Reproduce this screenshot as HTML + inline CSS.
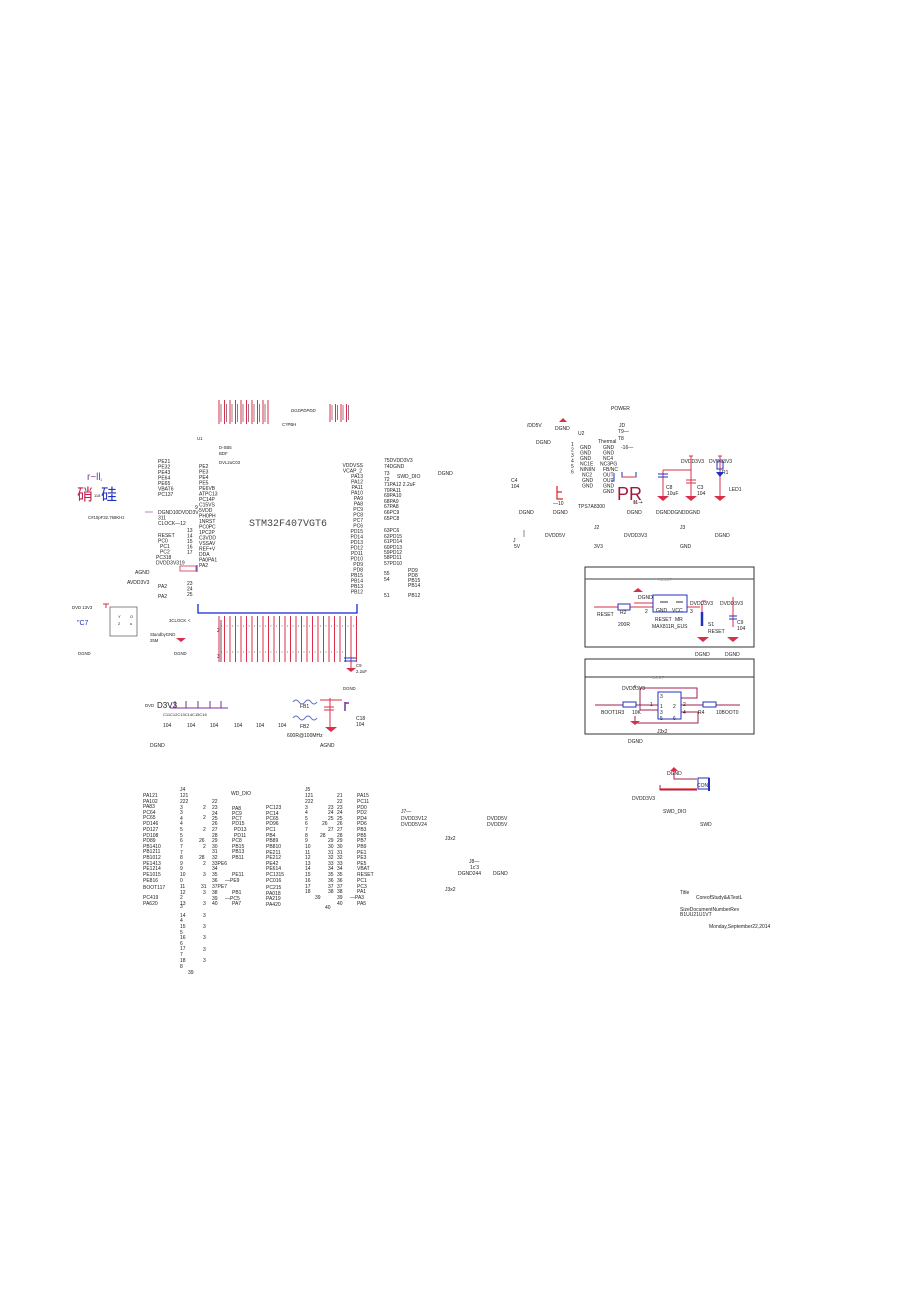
<!DOCTYPE html>
<html><head><meta charset="utf-8"><style>
html,body{margin:0;padding:0;background:#fff;}
svg{display:block;}
text{font-family:"Liberation Sans",sans-serif;font-size:5px;fill:#222;}
.s{font-size:4.3px}
.v{font-size:4px}
</style></head><body>
<svg width="920" height="1302" viewBox="0 0 920 1302" xmlns="http://www.w3.org/2000/svg">
<rect width="920" height="1302" fill="#fff"/>

<!-- top pins of U1 -->
<g stroke="#d8304a" stroke-width="1">
<path d="M219 400V424M224.5 400V424M230 400V424M235.5 400V424M241 400V424M246.5 400V424M252 400V424M257.5 400V424M263 400V424M268 400V424M330 404V422M335.5 404V422M341 404V422M346.5 404V422"/>
</g>
<g stroke="#6a1030" stroke-width="0.6"><path d="M221 404V422M226.5 404V422M232 404V422M237.5 404V422M243 404V422M248.5 404V422M254 404V422M259.5 404V422M265 404V422M332 405V420M337.5 405V420M343 405V420M348.5 405V420"/></g>
<text x="291" y="412" font-style="italic" class="s">DGDPDPDD</text>
<text x="282" y="426" class="s">C?PBH</text>
<text x="197" y="440" class="s">U1</text>
<text x="219" y="449" class="s">D-SB5</text>
<text x="219" y="455" class="s">BDF</text>
<text x="219" y="464" class="s">DVL2uC03</text>

<!-- chinese -->
<text x="87" y="480" style="font-size:10px;fill:#7a3a9a">r~ll</text><text x="100" y="481" class="v" style="fill:#7a3a9a">1</text>
<text x="77" y="500" style="font-family:'Liberation Sans','Noto Sans CJK SC',sans-serif;font-size:16px;fill:#c0204a">硝</text>
<text x="94" y="497" class="v">118</text>
<text x="101" y="500" style="font-family:'Liberation Sans','Noto Sans CJK SC',sans-serif;font-size:16px;fill:#2030c0">硅</text>
<text x="88" y="519" class="s">C#10pF32.768KHz</text>
<path d="M145 512h8" stroke="#c080c0"/>

<!-- left labels -->
<g class="s">
<text x="158" y="463">PE21</text><text x="158" y="468.5">PE32</text><text x="158" y="474">PE43</text><text x="158" y="479.5">PE64</text><text x="158" y="485">PE65</text><text x="158" y="490.5">VBAT6</text><text x="158" y="496">PC137</text>
<text x="158" y="514">DGND10DVDD3V</text><text x="158" y="519.5">311</text><text x="158" y="525">CLOCK—12</text>
<text x="158" y="537">RESET</text><text x="158" y="542.5">PC0</text><text x="160" y="548">PC1</text><text x="160" y="553.5">PC2</text><text x="156" y="559">PC318</text><text x="156" y="564.5">DVDD3V319</text>
<text x="135" y="574">AGND</text><text x="127" y="584">AVDD3V3</text><text x="158" y="588">PA2</text><text x="158" y="598">PA2</text>
<text x="187" y="532">13</text><text x="187" y="537.5">14</text><text x="187" y="543">15</text><text x="187" y="548.5">16</text><text x="187" y="554">17</text>
<text x="187" y="585">23</text><text x="187" y="590.5">24</text><text x="187" y="596">25</text><text x="195" y="509">9</text>
<text x="199" y="468">PE2</text><text x="199" y="473.5">PE3</text><text x="199" y="479">PE4</text><text x="199" y="484.5">PE5</text><text x="199" y="490">PE6VB</text><text x="199" y="495.5">ATPC13</text><text x="199" y="501">PC14P</text><text x="199" y="506.5">C15VS</text><text x="199" y="512">5VDD</text><text x="199" y="517.5">PH0PH</text><text x="199" y="523">1NRST</text><text x="199" y="528.5">PC0PC</text><text x="199" y="534">1PC2P</text><text x="199" y="539.5">C3VDD</text><text x="199" y="545">VSSAV</text><text x="199" y="550.5">REF+V</text><text x="199" y="556">DDA</text><text x="199" y="561.5">PA0PA1</text><text x="199" y="567">PA2</text>
</g>
<rect x="180" y="566" width="16" height="5" fill="none" stroke="#d03050" stroke-width="0.8"/><path d="M197 565v7" stroke="#3040d0"/>
<text x="249" y="526" style="font-family:'Liberation Mono',monospace;font-size:10px;fill:#444">STM32F407VGT6</text>

<!-- right labels -->
<g class="s" text-anchor="end">
<text x="363" y="467">VDDVSS</text><text x="362" y="472.5">VCAP_2</text><text x="363" y="478">PA13</text><text x="363" y="483.5">PA12</text><text x="363" y="489">PA11</text><text x="363" y="494.5">PA10</text><text x="363" y="500">PA9</text><text x="363" y="505.5">PA8</text><text x="363" y="511">PC9</text><text x="363" y="516.5">PC8</text><text x="363" y="522">PC7</text><text x="363" y="527.5">PC6</text><text x="363" y="533">PD15</text><text x="363" y="538.5">PD14</text><text x="363" y="544">PD13</text><text x="363" y="549.5">PD12</text><text x="363" y="555">PD11</text><text x="363" y="560.5">PD10</text><text x="363" y="566">PD9</text><text x="363" y="571.5">PD8</text><text x="363" y="577">PB15</text><text x="363" y="582.5">PB14</text><text x="363" y="588">PB13</text><text x="363" y="593.5">PB12</text>
</g>
<g class="s">
<text x="384" y="462">75DVDD3V3</text><text x="384" y="468">74DGND</text><text x="384" y="475">73</text><text x="384" y="481">72</text><text x="384" y="486">71PA12 2.2uF</text><text x="384" y="492">70PA11</text><text x="384" y="497">69PA10</text><text x="384" y="503">68PA9</text><text x="384" y="508">67PA8</text><text x="384" y="514">66PC9</text><text x="384" y="520">65PC8</text><text x="384" y="532">63PC6</text><text x="384" y="538">62PD15</text><text x="384" y="543">61PD14</text><text x="384" y="549">60PD13</text><text x="384" y="554">59PD12</text><text x="384" y="559">58PD11</text><text x="384" y="565">57PD10</text><text x="384" y="575">55</text><text x="384" y="581">54</text><text x="384" y="597">51</text>
<text x="408" y="572">PD9</text><text x="408" y="577">PD8</text><text x="408" y="582">PB15</text><text x="408" y="587">PB14</text><text x="408" y="597">PB12</text>
<text x="397" y="478">SWD_DIO</text><text x="438" y="475">DGND</text>
</g>

<!-- U1 bottom -->
<path d="M198 604V613H357V604" fill="none" stroke="#1428d8" stroke-width="1.3"/>
<g stroke="#d8304a" stroke-width="1">
<path d="M219 616V662M224.5 616V662M230 616V662M235.5 616V662M241 616V662M246.5 616V662M252 616V662M257.5 616V662M263 616V662M268.5 616V662M274 616V662M279.5 616V662M285 616V662M290.5 616V662M296 616V662M301.5 616V662M307 616V662M312.5 616V662M318 616V662M323.5 616V662M329 616V662M334.5 616V662M340 616V662M345.5 616V662M351 616V668M356.5 616V662"/>
</g>
<path d="M221 620V662" stroke="#6a1030" stroke-width="0.8"/>
<g class="v" fill="#333">
<text x="217" y="632">2</text><text x="217" y="658">3</text>
</g>
<g stroke="#555" stroke-width="0.8"><path d="M221 626h1M226.5 626h1M232 626h1M237.5 626h1M243 626h1M248.5 626h1M254 626h1M259.5 626h1M265 626h1M270.5 626h1M276 626h1M281.5 626h1M287 626h1M292.5 626h1M298 626h1M303.5 626h1M309 626h1M314.5 626h1M320 626h1M325.5 626h1M331 626h1M336.5 626h1M342 626h1M347.5 626h1M353 626h1M221 652h1M226.5 652h1M232 652h1M237.5 652h1M243 652h1M248.5 652h1M254 652h1M259.5 652h1M265 652h1M270.5 652h1M276 652h1M281.5 652h1M287 652h1M292.5 652h1M298 652h1M303.5 652h1M309 652h1M314.5 652h1M320 652h1M325.5 652h1M331 652h1M336.5 652h1M342 652h1"/></g>
<path d="M344 658h12M344 661h12" stroke="#2030c0"/>
<path d="M346 668h10l-5 4z" fill="#d8304a"/>
<text x="356" y="667" class="s">C9</text><text x="356" y="673" class="s">2.2uF</text>
<text x="343" y="690" class="s">DGND</text>

<!-- crystal / clock -->
<text x="72" y="609" class="s">DVD 13V3</text><path d="M103 604h6M106 604v4" stroke="#d8304a"/>
<text x="77" y="625" style="font-size:7px;fill:#2030c0">"C7</text>
<rect x="110" y="607" width="27" height="29" fill="none" stroke="#555" stroke-width="0.7"/>
<text x="118" y="618" class="v">Y</text><text x="130" y="618" class="v">O</text><text x="118" y="625" class="v">2</text><text x="130" y="625" class="v">u</text>
<text x="150" y="636" class="s">StandbyGND</text><text x="150" y="642" class="s">25M</text>
<text x="78" y="655" class="s">DGND</text><text x="169" y="622" class="s">3CLOCK</text><text x="188" y="622" class="s">&lt;</text>
<path d="M176 638h10l-5 4z" fill="#d8304a"/><text x="174" y="655" class="s">DGND</text>

<!-- decoupling -->
<text x="145" y="707" class="s">DVD</text><text x="157" y="708" style="font-size:8px">D3V3</text>
<g stroke="#7a2fa0" stroke-width="1"><path d="M170 708h58M175 701v7M186 701v7M198 701v7M210 701v7M221 701v7"/></g>
<text x="163" y="716" class="v">C11C12C13C14C15C16</text>
<g class="s"><text x="163" y="727">104</text><text x="187" y="727">104</text><text x="210" y="727">104</text><text x="234" y="727">104</text><text x="256" y="727">104</text><text x="278" y="727">104</text>
<text x="150" y="747">DGND</text><text x="300" y="708">FB1</text><text x="300" y="728">FB2</text><text x="287" y="737">600R@100MHz</text><text x="320" y="747">AGND</text><text x="356" y="720">C18</text><text x="356" y="726">104</text></g>
<path d="M293 702q3-4 6 0t6 0t6 0t6 0" fill="none" stroke="#6070d0"/>
<path d="M293 718q3-4 6 0t6 0t6 0t6 0" fill="none" stroke="#6070d0"/>
<path d="M320 700h22M330 698v30M324 707h10M324 710h10" stroke="#d8304a" fill="none"/>
<path d="M345 702v9M345 703h4" stroke="#7a2fa0" stroke-width="1.5"/>
<path d="M325 727h12l-6 5z" fill="#d8304a"/>

<!-- POWER -->
<g class="s">
<text x="611" y="410">POWER</text><text x="527" y="427">/DD5V</text><text x="555" y="430">DGND</text><text x="578" y="435">U2</text><text x="619" y="427">JD</text><text x="618" y="433">T9—</text><text x="618" y="440">T8</text><text x="598" y="443">Thermal</text><text x="536" y="444">DGND</text>
<text x="571" y="446">1</text><text x="571" y="451.5">2</text><text x="571" y="457">3</text><text x="571" y="462.5">4</text><text x="571" y="468">5</text><text x="571" y="473.5">6</text>
<text x="580" y="449">GND</text><text x="580" y="454.5">GND</text><text x="580" y="460">GND</text><text x="580" y="465.5">NC1E</text><text x="580" y="471">NINIIN</text><text x="582" y="476.5">NC2</text><text x="582" y="482">GND</text><text x="582" y="487.5">GND</text>
<text x="603" y="449">GND</text><text x="603" y="454.5">GND</text><text x="603" y="460">NC4</text><text x="600" y="465.5">NC3PG</text><text x="603" y="471">FB/NC</text><text x="603" y="476.5">OUT</text><text x="603" y="482">OUT</text><text x="603" y="487.5">GND</text><text x="603" y="493">GND</text>
<text x="621" y="449">-16—</text><text x="511" y="482">C4</text><text x="511" y="488">104</text>
<text x="553" y="505">—10</text><text x="578" y="508">TPS7A8300</text><text x="633" y="504">11-+</text>
<text x="519" y="514">DGND</text><text x="553" y="514">DGND</text><text x="627" y="514">DGND</text><text x="656" y="514">DGNDDGNDDGND</text>
<text x="513" y="542">J</text><text x="514" y="548">5V</text><text x="545" y="537">DVDD5V</text><text x="594" y="529">J2</text><text x="594" y="548">3V3</text><text x="624" y="537">DVDD3V3</text><text x="680" y="529">J3</text><text x="680" y="548">GND</text><text x="715" y="537">DGND</text>
<text x="681" y="463">DVDD3V3</text><text x="709" y="463">DVDD3V3</text><text x="666" y="489">C8</text><text x="667" y="495">10uF</text><text x="697" y="489">C3</text><text x="697" y="495">104</text><text x="722" y="474">R1</text><text x="729" y="491">LED1</text>
</g>
<path d="M559 422h8l-4-4z" fill="#d8304a"/>
<path d="M557 486v13h6" fill="none" stroke="#e02020" stroke-width="1.2"/><path d="M557 492h5" stroke="#e02020" stroke-width="1.2"/>
<text x="617" y="500" style="font-size:18px;fill:#a0183a">PR</text>
<path d="M614 473v8h-3M622 472v5h14v-5" fill="none" stroke="#2030c0"/><path d="M622 477h14" stroke="#d8304a"/>
<path d="M524 530v7" stroke="#888"/>
<g stroke="#d8304a" fill="none">
<path d="M663 470h28M691 456v40M663 470v26M720 456v40M633 502h4"/>
<path d="M686 480h10M686 483h10"/>
</g>
<path d="M658 474h10M658 477h10" stroke="#2030c0"/>
<rect x="717" y="461" width="6" height="8" fill="none" stroke="#2030c0"/>
<path d="M716 472h8l-4 5z" fill="#2030c0"/>
<path d="M657 496h12l-6 5zM685 496h12l-6 5zM714 496h12l-6 5z" fill="#d8304a"/>
<path d="M689 456h4M718 456h4" stroke="#d8304a"/>

<!-- RESET box -->
<rect x="585" y="567" width="169" height="80" fill="none" stroke="#333" stroke-width="1"/>
<path d="M585 579H754" stroke="#666" stroke-width="1.2"/>
<text x="665" y="581" class="s" fill="#999" text-anchor="middle" style="fill:#999">RESET</text>
<path d="M594 607H653M634 603H653M687 607H700M702 604V622M702 601h4M733 597v30" stroke="#d8304a" fill="none"/>
<rect x="618" y="604" width="12" height="6" fill="#fff" stroke="#2030c0"/>
<rect x="653" y="595" width="34" height="17" fill="none" stroke="#2030c0"/>
<path d="M660 602h8M676 602h7" stroke="#333"/>
<path d="M702 612v14" stroke="#2030c0" stroke-width="2.5"/>
<path d="M729 616h8M729 619h8" stroke="#2030c0"/>
<path d="M633 592h10l-5-4zM697 637h12l-6 5zM727 637h12l-6 5z" fill="#d8304a"/>
<g class="s"><text x="638" y="599">DGND</text><text x="597" y="616">RESET</text><text x="620" y="614">R2</text><text x="618" y="626">200R</text><text x="645" y="613">2</text><text x="656" y="612">GND</text><text x="672" y="612">VCC</text><text x="655" y="621">RESET</text><text x="675" y="621">MR</text><text x="652" y="628">MAX811R_EUS</text><text x="690" y="605">DVDD3V3</text><text x="690" y="613">3</text><text x="708" y="626">S1</text><text x="708" y="633">RESET</text><text x="720" y="605">DVDD3V3</text><text x="737" y="624">C9</text><text x="737" y="630">104</text><text x="695" y="656">DGND</text><text x="725" y="656">DGND</text></g>

<!-- BOOT box -->
<rect x="585" y="659" width="169" height="75" fill="none" stroke="#333" stroke-width="1"/>
<path d="M585 677H754" stroke="#333" stroke-width="1"/>
<text x="652" y="679" class="s" style="fill:#999">BOOT</text>
<g stroke="#a02050" fill="none"><path d="M595 705H658M681 705H740M635 688v-3M640 688H697V698H681M640 688v22h18M635 716v7H698V712H681"/></g>
<rect x="658" y="692" width="23" height="27" fill="none" stroke="#2030c0"/>
<rect x="623" y="702" width="13" height="5" fill="#fff" stroke="#2030c0"/>
<rect x="703" y="702" width="13" height="5" fill="#fff" stroke="#2030c0"/>
<path d="M630 721h10l-5 4z" fill="#d8304a"/>
<g class="s"><text x="622" y="690">DVDD3V3</text><text x="601" y="714">BOOT1R3</text><text x="632" y="714">10K</text><text x="660" y="698">3</text><text x="650" y="706">1</text><text x="660" y="708">1</text><text x="660" y="714">3</text><text x="673" y="708">2</text><text x="683" y="706">2</text><text x="683" y="714">4</text><text x="698" y="714">R4</text><text x="716" y="714">10BOOT0</text><text x="660" y="720">5</text><text x="673" y="720">6</text><text x="657" y="733">J3x2</text><text x="628" y="743">DGND</text></g>

<!-- SWD -->
<path d="M670 771h8l-4-4z" fill="#d8304a"/>
<path d="M674 771v8h23M660 785v5h37" stroke="#a02050" fill="none"/><path d="M660 789h37" stroke="#e02020" stroke-width="1.2"/>
<rect x="698" y="778" width="11" height="11" fill="none" stroke="#2030c0"/><path d="M709 778v13" stroke="#2030c0" stroke-width="2"/>
<g class="s"><text x="667" y="775">DGND</text><text x="697" y="787">CON</text><text x="632" y="800">DVDD3V3</text><text x="663" y="813">SWD_DIO</text><text x="700" y="826">SWD</text>
<text x="401" y="813">J7—</text><text x="401" y="820">DVDD3V12</text><text x="401" y="826">DVDD5V24</text><text x="487" y="820">DVDD5V</text><text x="487" y="826">DVDD5V</text><text x="445" y="840">J3x2</text><text x="469" y="863">J8—</text><text x="470" y="869">1c'3</text><text x="458" y="875">DGND244</text><text x="493" y="875">DGND</text><text x="445" y="891">J3x2</text>
<text x="680" y="894">Title</text><text x="696" y="899">CoreofStudy&amp;&amp;TestL</text><text x="680" y="911">SizeDocumentNumberRev</text><text x="680" y="916">B1UU21U1VT</text><text x="709" y="928">Monday,September22,2014</text></g>

<!-- J4 -->
<g class="s">
<text x="143" y="797">PA121</text><text x="143" y="803">PA102</text><text x="143" y="808">PA83</text><text x="143" y="814">PC64</text><text x="143" y="819">PC65</text><text x="143" y="825">PD146</text><text x="143" y="831">PD127</text><text x="143" y="837">PD108</text><text x="143" y="842">PD89</text><text x="143" y="848">PB1410</text><text x="143" y="853">PB1211</text><text x="143" y="859">PB1012</text><text x="143" y="865">PE1413</text><text x="143" y="870">PE1214</text><text x="143" y="876">PE1015</text><text x="143" y="882">PE816</text><text x="143" y="889">BOOT117</text><text x="143" y="899">PC419</text><text x="143" y="905">PA620</text>
<text x="180" y="791">J4</text><text x="180" y="797">121</text><text x="180" y="803">222</text><text x="180" y="809">3</text><text x="180" y="814">3</text><text x="180" y="820">4</text><text x="180" y="825">4</text><text x="180" y="831">5</text><text x="180" y="837">5</text><text x="180" y="842">6</text><text x="180" y="848">7</text><text x="180" y="854">7</text><text x="180" y="859">8</text><text x="180" y="865">9</text><text x="180" y="870">9</text><text x="180" y="876">10</text><text x="180" y="882">0</text><text x="180" y="888">11</text><text x="180" y="894">12</text><text x="180" y="899">2</text><text x="180" y="905">13</text><text x="180" y="908">3</text><text x="180" y="917">14</text><text x="180" y="922">4</text><text x="180" y="928">15</text><text x="180" y="934">5</text><text x="180" y="939">16</text><text x="180" y="945">6</text><text x="180" y="950">17</text><text x="180" y="956">7</text><text x="180" y="962">18</text><text x="180" y="968">8</text><text x="188" y="974">39</text>
<text x="203" y="809">2</text><text x="203" y="819">2</text><text x="203" y="831">2</text><text x="199" y="842">26</text><text x="203" y="848">2</text><text x="199" y="859">28</text><text x="203" y="865">2</text><text x="203" y="876">3</text><text x="201" y="888">31</text><text x="203" y="894">3</text><text x="203" y="905">3</text><text x="203" y="917">3</text><text x="203" y="928">3</text><text x="203" y="939">3</text><text x="203" y="951">3</text><text x="203" y="962">3</text>
<text x="212" y="803">22</text><text x="212" y="809">23</text><text x="212" y="815">24</text><text x="212" y="820">25</text><text x="212" y="825">26</text><text x="212" y="831">27</text><text x="212" y="837">28</text><text x="212" y="842">29</text><text x="212" y="848">30</text><text x="212" y="853">31</text><text x="212" y="859">32</text><text x="212" y="865">33PE6</text><text x="212" y="870">34</text><text x="212" y="876">35</text><text x="212" y="882">36</text><text x="212" y="888">37PE7</text><text x="212" y="894">38</text><text x="212" y="900">39</text><text x="212" y="905">40</text>
<text x="231" y="795">WD_DIO</text><text x="232" y="810">PA8</text><text x="232" y="815">PC9</text><text x="232" y="820">PC7</text><text x="232" y="825">PD15</text><text x="234" y="831">PD13</text><text x="234" y="837">PD11</text><text x="232" y="842">PC8</text><text x="232" y="848">PB15</text><text x="232" y="853">PB13</text><text x="232" y="859">PB11</text><text x="232" y="876">PE11</text><text x="225" y="882">—PE9</text><text x="232" y="894">PB1</text><text x="225" y="900">—PC5</text><text x="232" y="905">PA7</text>
<text x="266" y="809">PC123</text><text x="266" y="815">PC14</text><text x="266" y="820">PC65</text><text x="266" y="825">PD96</text><text x="266" y="831">PC1</text><text x="266" y="837">PB4</text><text x="266" y="842">PB89</text><text x="266" y="848">PB810</text><text x="266" y="854">PE211</text><text x="266" y="859">PE212</text><text x="266" y="865">PE42</text><text x="266" y="870">PE614</text><text x="266" y="876">PC1315</text><text x="266" y="882">PC016</text><text x="266" y="889">PC215</text><text x="266" y="895">PA018</text><text x="266" y="900">PA219</text><text x="266" y="906">PA420</text>
<!-- J5 -->
<text x="305" y="791">J5</text><text x="305" y="797">121</text><text x="305" y="803">222</text><text x="305" y="809">3</text><text x="305" y="814">4</text><text x="305" y="820">5</text><text x="305" y="825">6</text><text x="305" y="831">7</text><text x="305" y="837">8</text><text x="305" y="842">9</text><text x="305" y="848">10</text><text x="305" y="854">11</text><text x="305" y="859">12</text><text x="305" y="865">13</text><text x="305" y="870">14</text><text x="305" y="876">15</text><text x="305" y="882">16</text><text x="305" y="888">17</text><text x="305" y="893">18</text><text x="315" y="899">39</text><text x="325" y="909">40</text>
<text x="328" y="809">23</text><text x="328" y="814">24</text><text x="328" y="820">25</text><text x="322" y="825">26</text><text x="328" y="831">27</text><text x="320" y="837">28</text><text x="328" y="842">29</text><text x="328" y="848">30</text><text x="328" y="854">31</text><text x="328" y="859">32</text><text x="328" y="865">33</text><text x="328" y="870">34</text><text x="328" y="876">35</text><text x="328" y="882">36</text><text x="328" y="888">37</text><text x="328" y="893">38</text>
<text x="337" y="797">21</text><text x="337" y="803">22</text><text x="337" y="809">23</text><text x="337" y="814">24</text><text x="337" y="820">25</text><text x="337" y="825">26</text><text x="337" y="831">27</text><text x="337" y="837">28</text><text x="337" y="842">29</text><text x="337" y="848">30</text><text x="337" y="854">31</text><text x="337" y="859">32</text><text x="337" y="865">33</text><text x="337" y="870">34</text><text x="337" y="876">35</text><text x="337" y="882">36</text><text x="337" y="888">37</text><text x="337" y="893">38</text><text x="337" y="899">39</text><text x="337" y="905">40</text>
<text x="357" y="797">PA15</text><text x="357" y="803">PC11</text><text x="357" y="809">PD0</text><text x="357" y="814">PD2</text><text x="357" y="820">PD4</text><text x="357" y="825">PD6</text><text x="357" y="831">PB3</text><text x="357" y="837">PB5</text><text x="357" y="842">PB7</text><text x="357" y="848">PB9</text><text x="357" y="854">PE1</text><text x="357" y="859">PE3</text><text x="357" y="865">PE5</text><text x="357" y="870">VBAT</text><text x="357" y="876">RESET</text><text x="357" y="882">PC1</text><text x="357" y="888">PC3</text><text x="357" y="893">PA1</text><text x="350" y="899">—PA3</text><text x="357" y="905">PA5</text>
</g>
</svg>
</body></html>
